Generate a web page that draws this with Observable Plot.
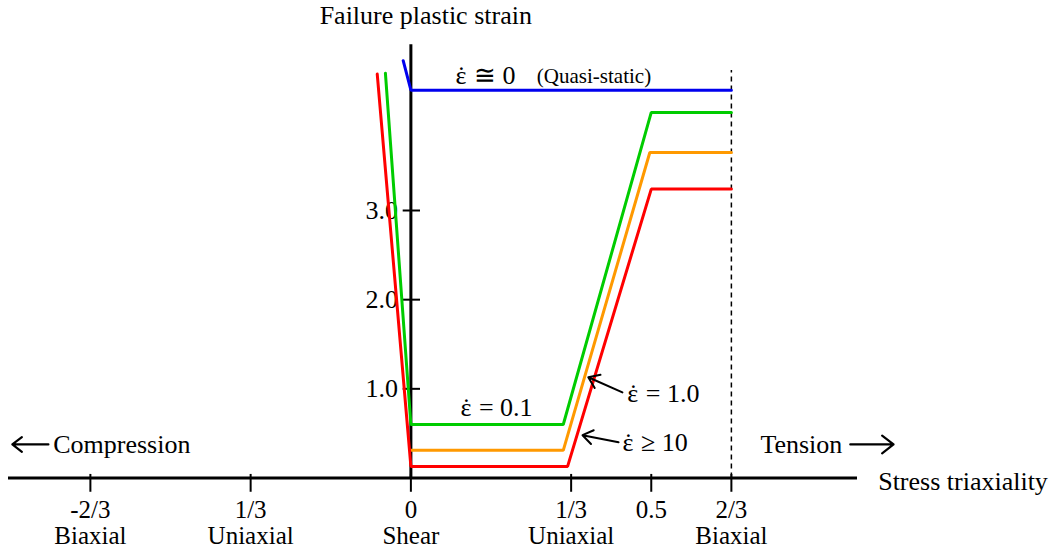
<!DOCTYPE html>
<html>
<head>
<meta charset="utf-8">
<script src="https://cdn.jsdelivr.net/npm/d3@7"></script>
<script src="https://cdn.jsdelivr.net/npm/@observablehq/plot@0.6"></script>
<style>
  html, body { margin: 0; padding: 0; background: #fff; }
  #chart svg { display: block; }
</style>
</head>
<body>
<div id="chart"></div>
<script>
// Failure plastic strain vs. stress triaxiality, one polyline per strain rate
const quasiStatic = [[-0.016, 4.68], [0, 4.35], [2/3, 4.35]];
const rate01 = [[-0.053, 4.54], [0, 0.60], [0.317, 0.60], [0.5, 4.10], [2/3, 4.10]];
const rate1 = [[0, 0.31], [0.317, 0.31], [0.497, 3.65], [2/3, 3.65]];
const rate10 = [[-0.07, 4.53], [0, 0.13], [0.326, 0.13], [0.5, 3.24], [2/3, 3.24]];

const seriesNames = ["quasi-static", "0.1", "1.0", "10"];
const seriesColors = ["#0000ee", "#00cc00", "#ff9900", "#ff0000"];

// Triaxiality ticks and the stress state each one stands for
const xTicks = [-2/3, -1/3, 0, 1/3, 0.5, 2/3];
const xTickLabels = ["-2/3", "1/3", "0", "1/3", "0.5", "2/3"];
const stateLabels = ["Biaxial", "Uniaxial", "Shear", "Uniaxial", "", "Biaxial"];

const yTicks = [1, 2, 3];
const yTickLabels = ["1.0", "2.0", "3.0"];

// Strain-rate labels: the text after the dotted epsilon
const rateLabels = [
  {x: 0.0926, y: 4.51, rest: " ≅ 0"},
  {x: 0.103, y: 0.79, rest: " = 0.1"},
  {x: 0.450, y: 0.95, rest: " = 1.0"},
  {x: 0.440, y: 0.40, rest: " ≥ 10"}
];

const xMin = -0.837, xMax = 0.929;
const serif = "Liberation Serif, Times New Roman, serif";

const lines = [quasiStatic, rate01, rate1, rate10].flatMap((pts, i) =>
  pts.map(([x, y]) => ({series: seriesNames[i], x, y}))
);
const xTickData = xTicks.map((v, i) => ({v, label: xTickLabels[i], state: stateLabels[i]}));
const yTickData = yTicks.map((v, i) => ({v, label: yTickLabels[i]}));

const chart = Plot.plot({
  width: 1052,
  height: 550,
  margin: 0,
  style: {fontFamily: serif, background: "white", color: "black"},
  x: {domain: [xMin, xMax], range: [8, 857], axis: null},
  y: {domain: [0, 3], range: [477.5, 210], axis: null},
  color: {domain: seriesNames, range: seriesColors},
  marks: [
    // axes
    Plot.ruleY([0], {x1: xMin, x2: xMax, stroke: "black", strokeWidth: 3}),
    Plot.ruleX([0], {y1: 0, y2: 4.86, stroke: "black", strokeWidth: 3}),
    Plot.ruleX(xTicks, {x: d => d, y1: 0.04, y2: -0.16, stroke: "black", strokeWidth: 2}),
    Plot.ruleY(yTicks, {y: d => d, x1: -0.016, x2: 0.02, stroke: "black", strokeWidth: 2}),
    Plot.ruleX([2/3], {y1: 0, y2: 4.57, stroke: "black", strokeWidth: 1.5, strokeDasharray: "5,4"}),

    // tick labels
    Plot.text(yTickData, {x: 0, y: "v", text: "label", dx: -13, textAnchor: "end", fontSize: 26}),
    Plot.text(xTickData, {x: "v", y: 0, text: "label", dy: 32, fontSize: 25}),
    Plot.text(xTickData, {x: "v", y: 0, text: "state", dy: 58, fontSize: 25}),

    // failure curves
    Plot.line(lines, {x: "x", y: "y", z: "series", stroke: "series", strokeWidth: 3, strokeLinejoin: "miter"}),

    // axis titles
    Plot.text(["Failure plastic strain"], {x: 0.031, y: 5.18, text: d => d, fontSize: 26}),
    Plot.text(["Stress triaxiality"], {x: 0.972, y: -0.04, text: d => d, textAnchor: "start", fontSize: 26}),
    Plot.text(["Compression"], {x: -0.744, y: 0.376, text: d => d, textAnchor: "start", fontSize: 26}),
    Plot.text(["Tension"], {x: 0.727, y: 0.376, text: d => d, textAnchor: "start", fontSize: 26}),
    Plot.arrow([0], {x1: -0.754, x2: -0.829, y1: 0.376, y2: 0.376, strokeWidth: 2.2, headLength: 14, headAngle: 75}),
    Plot.arrow([0], {x1: 0.914, x2: 1.004, y1: 0.376, y2: 0.376, strokeWidth: 2.2, headLength: 14, headAngle: 75}),

    // strain-rate annotations: epsilon, its rate dot, then the relation
    Plot.text(rateLabels, {x: "x", y: "y", text: () => "ε", textAnchor: "start", fontSize: 26}),
    Plot.text(rateLabels, {x: "x", y: "y", text: () => "˙", textAnchor: "middle", dx: 6, fontSize: 26}),
    Plot.text(rateLabels, {x: "x", y: "y", text: "rest", textAnchor: "start", dx: 12, fontSize: 26}),
    Plot.text(["(Quasi-static)"], {x: 0.262, y: 4.51, text: d => d, textAnchor: "start", fontSize: 21}),
    Plot.arrow([0], {x1: 0.440, y1: 0.96, x2: 0.369, y2: 1.13, strokeWidth: 2, headLength: 13, headAngle: 70}),
    Plot.arrow([0], {x1: 0.432, y1: 0.40, x2: 0.357, y2: 0.48, strokeWidth: 2, headLength: 13, headAngle: 70})
  ]
});

document.getElementById("chart").appendChild(chart);
</script>
</body>
</html>
